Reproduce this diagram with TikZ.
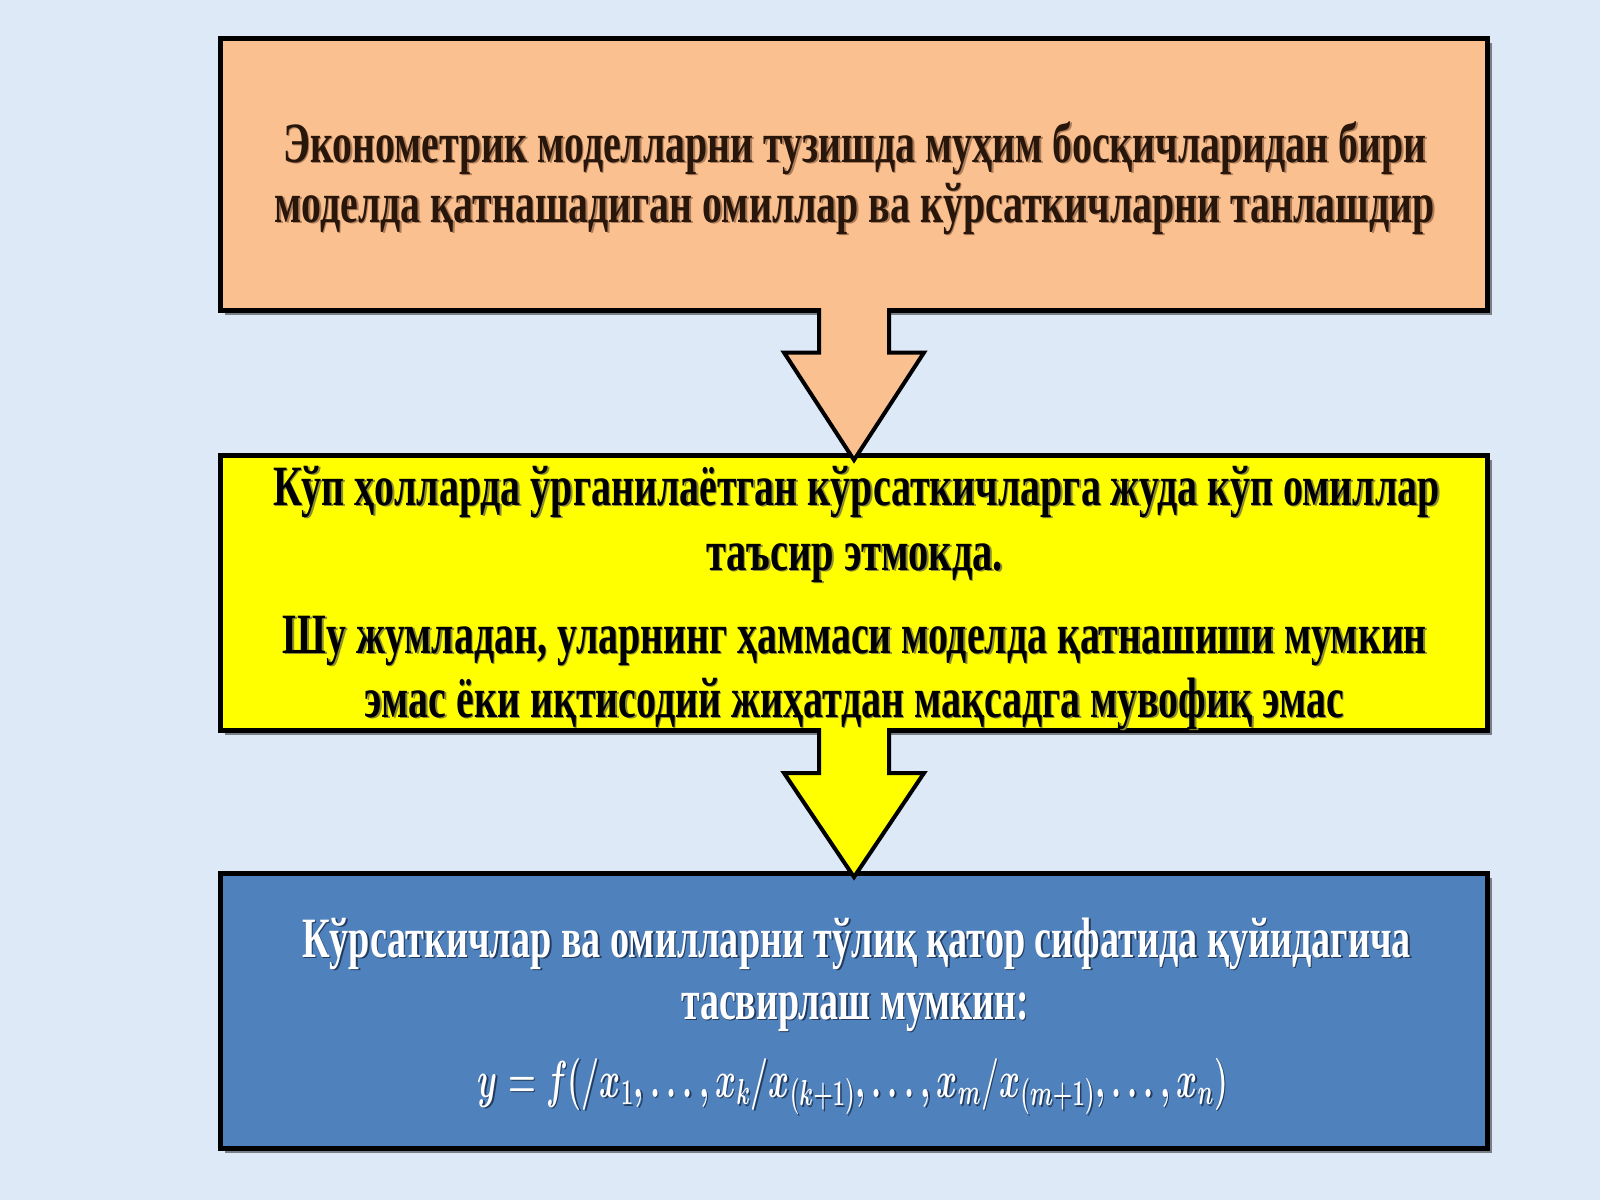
\documentclass[tikz,border=0pt]{standalone}
\usepackage{fontspec}
\setmainfont{Liberation Serif}
\usepackage{graphicx}
\usetikzlibrary{calc,shadows}
\definecolor{bgc}{RGB}{221,233,246}
\definecolor{peach}{RGB}{250,192,143}
\definecolor{ylw}{RGB}{255,255,0}
\definecolor{blu}{RGB}{79,129,189}
\definecolor{brn}{RGB}{40,22,10}
\definecolor{brnsh}{RGB}{175,125,90}
\definecolor{blk}{RGB}{0,0,0}
\definecolor{blksh}{RGB}{140,140,50}
\definecolor{wht}{RGB}{255,255,255}
\definecolor{whtsh}{RGB}{35,60,95}
\tikzset{
  box/.style={draw=black, line width=2.5pt, outer sep=0pt, inner sep=0pt,
    minimum width=633.5pt,
    drop shadow={shadow xshift=2pt, shadow yshift=-2pt, opacity=0.45, fill=black}},
  tline/.style={anchor=base, inner sep=0pt, font=\fontsize{28.5}{34}\selectfont\bfseries},
  arrowline/.style={draw=black, line width=2pt, line join=miter}
}
\newcommand\mytl[5]{%
  \node[tline, text=#5sh] (#1s) at ($(#2)+(1.5,1.5)$) {\resizebox{#3pt}{\height}{#4}};
  \node[tline, text=#5] (#1) at (#2) {\resizebox{#3pt}{\height}{#4}};}
\newcommand\myfl[5]{%
  \node[tline, text=#5sh] (#1s) at ($(#2)+(1.5,1.5)$) {\resizebox{#3pt}{19.5pt}{#4}};
  \node[tline, text=#5] (#1) at (#2) {\resizebox{#3pt}{19.5pt}{#4}};}
\newcommand\myarrow[5]{%
  \fill[#3] ($(#1.south)+(-35,-4)$) -- ($(#1.south)+(-35,#5)$) -- ($(#1.south)+(-70,#5)$)
    -- ($(#2.north)+(0,#4)$) -- ($(#1.south)+(70,#5)$) -- ($(#1.south)+(35,#5)$)
    -- ($(#1.south)+(35,-4)$) -- cycle;
  \draw[arrowline] ($(#1.south)+(-35,-2.5)$) -- ($(#1.south)+(-35,#5)$) -- ($(#1.south)+(-70,#5)$)
    -- ($(#2.north)+(0,#4)$) -- ($(#1.south)+(70,#5)$) -- ($(#1.south)+(35,#5)$)
    -- ($(#1.south)+(35,-2.5)$);}
\begin{document}
\begin{tikzpicture}[x=0.5pt,y=-0.5pt]
\useasboundingbox (0,0) rectangle (1600,1200);
\fill[bgc] (0,0) rectangle (1600,1200);
\node[box, fill=peach, minimum height=136pt] (b1) at (854,174.5) {};
\node[box, fill=ylw, minimum height=137.5pt] (b2) at (854,593) {};
\node[box, fill=blu, minimum height=137.5pt] (b3) at (854,1011) {};
\myarrow{b1}{b2}{peach}{4.5}{42}
\myarrow{b2}{b3}{ylw}{3.5}{42.5}
\mytl{t1}{855,162}{572}{Эконометрик моделларни тузишда муҳим босқичларидан бири}{brn}
\mytl{t2}{855,222}{580}{моделда қатнашадиган омиллар ва кўрсаткичларни танлашдир}{brn}
\mytl{t3}{856.5,505}{583.5}{Кўп ҳолларда ўрганилаётган кўрсаткичларга жуда кўп омиллар}{blk}
\mytl{t4}{854.5,570}{148.5}{таъсир этмокда.}{blk}
\mytl{t5}{855,653}{572}{Шу жумладан, уларнинг ҳаммаси моделда қатнашиши мумкин}{blk}
\mytl{t6}{854.5,717}{489.5}{эмас ёки иқтисодий жиҳатдан мақсадга мувофиқ эмас}{blk}
\mytl{t7}{856.5,957}{554.5}{Кўрсаткичлар ва омилларни тўлиқ қатор сифатида қуйидагича}{wht}
\mytl{t8}{855,1019}{174}{тасвирлаш мумкин:}{wht}
\myfl{t9}{853,1097}{375}{\fontsize{24}{30}\selectfont\boldmath$y = f(/x_1, \ldots, x_k/x_{(k+1)}, \ldots,x_m/x_{(m+1)},\ldots,x_n)$}{wht}
\end{tikzpicture}
\end{document}
